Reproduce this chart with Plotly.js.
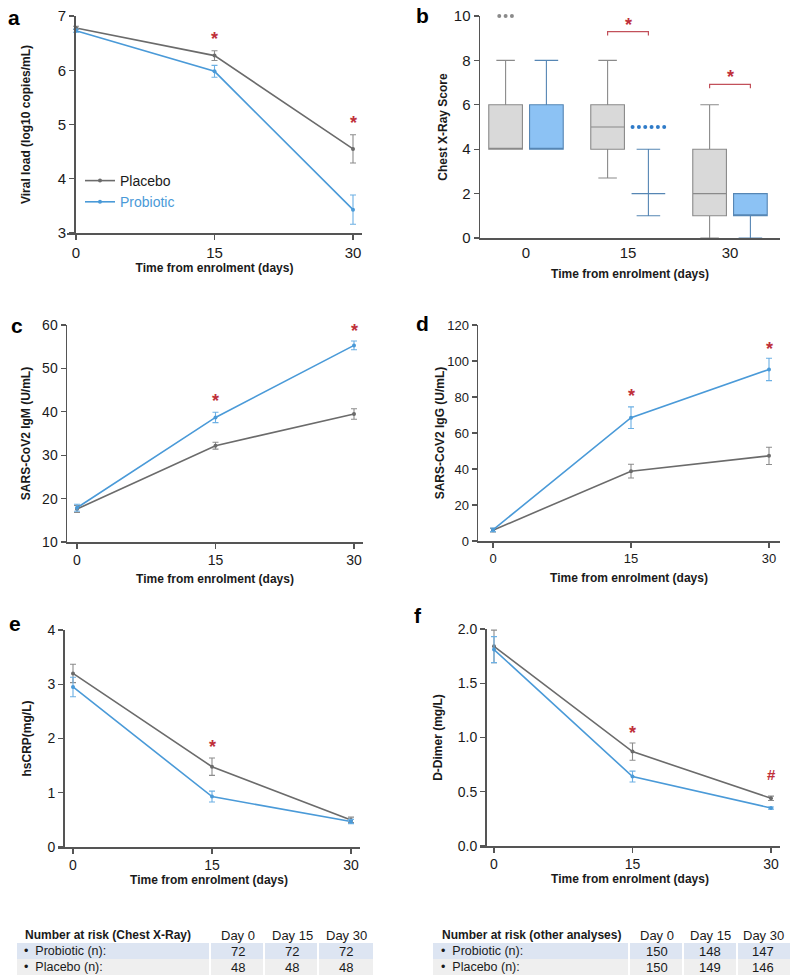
<!DOCTYPE html>
<html><head><meta charset="utf-8">
<script src="https://cdn.plot.ly/plotly-3.0.1.min.js"></script>
<style>html,body{margin:0;padding:0;background:#fff}</style>
</head><body><div id="chart" style="width:800px;height:979px"></div>
<script>
// ---------------- DATA ----------------
const days = [0, 15, 30];
const dayLabels = ['0', '15', '30'];

// a: viral load
const viralPlacebo = [6.78, 6.27, 4.55];
const viralPlaceboErr = [0.03, 0.09, 0.26];
const viralProbiotic = [6.73, 5.98, 3.43];
const viralProbioticErr = [0.03, 0.11, 0.27];
const viralStarX = [15, 30];
const viralStarY = [6.65, 5.1];
const viralStarText = ['*', '*'];

// b: chest x-ray score boxes (group index 0,1,2 -> day 0,15,30)
const xrayGroups = [0, 1, 2];
const xrayPlaceboQ1 = [4, 4, 1];
const xrayPlaceboMedian = [4, 5, 2];
const xrayPlaceboQ3 = [6, 6, 4];
const xrayPlaceboLow = [4, 2.7, 0];
const xrayPlaceboHigh = [8, 8, 6];
const xrayProbioticQ1 = [4, 2, 1];
const xrayProbioticMedian = [4, 2, 1];
const xrayProbioticQ3 = [6, 2, 2];
const xrayProbioticLow = [4, 1, 0];
const xrayProbioticHigh = [8, 4, 2];
const xrayPlaceboOutGroup = [0];
const xrayPlaceboOutY = [10];
const xrayPlaceboOutN = [3];
const xrayProbioticOutGroup = [1];
const xrayProbioticOutY = [5];
const xrayProbioticOutN = [6];
const xraySigGroup = [1, 2];
const xraySigLevel = [9.3, 6.92];
const xraySigStarY = [9.78, 7.42];

// c: IgM
const igmPlacebo = [17.6, 32.2, 39.5];
const igmPlaceboErr = [0.8, 0.8, 1.2];
const igmProbiotic = [17.9, 38.7, 55.3];
const igmProbioticErr = [0.8, 1.2, 1.0];
const igmStarX = [15, 30];
const igmStarY = [43.5, 59.5];
const igmStarText = ['*', '*'];

// d: IgG
const iggPlacebo = [6.0, 38.8, 47.3];
const iggPlaceboErr = [1.0, 3.8, 4.8];
const iggProbiotic = [6.2, 68.5, 95.3];
const iggProbioticErr = [1.0, 6.0, 6.2];
const iggStarX = [15, 30];
const iggStarY = [83, 109];
const iggStarText = ['*', '*'];

// e: hsCRP
const crpPlacebo = [3.2, 1.48, 0.5];
const crpPlaceboErr = [0.17, 0.16, 0.05];
const crpProbiotic = [2.95, 0.93, 0.47];
const crpProbioticErr = [0.18, 0.10, 0.04];
const crpStarX = [15];
const crpStarY = [1.92];
const crpStarText = ['*'];

// f: D-Dimer
const dimerPlacebo = [1.84, 0.87, 0.44];
const dimerPlaceboErr = [0.15, 0.08, 0.02];
const dimerProbiotic = [1.81, 0.64, 0.35];
const dimerProbioticErr = [0.12, 0.05, 0.01];
const dimerStarX = [15, 30];
const dimerStarY = [1.08, 0.66];
const dimerStarText = ['*', '#'];

// tables
const tableDays = ['Day 0', 'Day 15', 'Day 30'];
const tableRowNames = ['Probiotic (n):', 'Placebo (n):'];
const xrayRiskProbiotic = [72, 72, 72];
const xrayRiskPlacebo = [48, 48, 48];
const otherRiskProbiotic = [150, 148, 147];
const otherRiskPlacebo = [150, 149, 146];

// ---------------- STYLE / LAYOUT ----------------
const W = 800, H = 979;
const px = x => x / W, py = y => 1 - y / H;
const FONT = 'Liberation Sans, Arial, sans-serif';
const GRAY = '#6b6b6b', GRAYERR = '#8c8c8c';
const BLUE = '#4a9ad8', BLUEERR = '#6cb0e4';
const RED = '#c0303a';
const AXC = '#555555';
const TXT = '#1a1a1a';

function xRange(d0, d1, t0, t30) { const k = (t30 - t0) / 30; return [(d0 - t0) / k, (d1 - t0) / k]; }

function xAxis(d0, d1, t0, t30, anchor, standoff, fs) {
  return {
    domain: [px(d0), px(d1)], range: xRange(d0, d1, t0, t30), anchor: anchor,
    tickmode: 'array', tickvals: days, ticktext: dayLabels,
    ticks: 'outside', ticklen: 5, tickwidth: 1.2, tickcolor: AXC,
    showline: true, linecolor: AXC, linewidth: 1.5, showgrid: false, zeroline: false,
    tickfont: {size: fs, color: TXT, family: FONT},
    title: {text: 'Time from enrolment (days)', font: {size: 12, weight: 'bold', color: TXT, family: FONT}, standoff: standoff}
  };
}
function yAxis(top, bot, range, dtick, anchor, pos, title, standoff, fs, fmt) {
  const a = {
    domain: [py(bot), py(top)], range: range, tick0: range[0], dtick: dtick,
    ticks: 'outside', ticklen: 5, tickwidth: 1.2, tickcolor: AXC,
    showline: true, linecolor: AXC, linewidth: 1.5, showgrid: false, zeroline: false,
    tickfont: {size: fs, color: TXT, family: FONT},
    title: {text: title, font: {size: 12, weight: 'bold', color: TXT, family: FONT}, standoff: standoff}
  };
  if (fmt) a.tickformat = fmt;
  if (pos != null) { a.anchor = 'free'; a.position = px(pos); } else { a.anchor = anchor; }
  return a;
}

function lineTrace(y, err, color, errColor, xa, ya, name, showlegend) {
  return {
    type: 'scatter', mode: 'lines+markers', x: days, y: y, name: name, showlegend: showlegend,
    error_y: {type: 'data', array: err, visible: true, color: errColor, thickness: 1.1, width: 3},
    line: {color: color, width: 1.6}, marker: {color: color, size: 4},
    xaxis: xa, yaxis: ya, hoverinfo: 'skip'
  };
}

const traces = [];
const annotations = [];
const shapes = [];

function starAnn(xs, ys, texts, xref, yref) {
  xs.forEach((x, i) => annotations.push({
    x: x, y: ys[i], xref: xref, yref: yref, text: texts[i], showarrow: false,
    font: {size: texts[i] === '#' ? 15 : 18, color: RED, family: FONT, weight: 'bold'},
    xanchor: 'center', yanchor: 'middle', yshift: texts[i] === '#' ? 0 : -4
  }));
}

// a
traces.push(lineTrace(viralPlacebo, viralPlaceboErr, GRAY, GRAYERR, 'x', 'y', 'Placebo', true));
traces.push(lineTrace(viralProbiotic, viralProbioticErr, BLUE, BLUEERR, 'x', 'y', '<span style="color:' + BLUE + '">Probiotic</span>', true));
starAnn(viralStarX, viralStarY, viralStarText, 'x', 'y');
// c
traces.push(lineTrace(igmPlacebo, igmPlaceboErr, GRAY, GRAYERR, 'x3', 'y3', 'Placebo', false));
traces.push(lineTrace(igmProbiotic, igmProbioticErr, BLUE, BLUEERR, 'x3', 'y3', 'Probiotic', false));
starAnn(igmStarX, igmStarY, igmStarText, 'x3', 'y3');
// d
traces.push(lineTrace(iggPlacebo, iggPlaceboErr, GRAY, GRAYERR, 'x4', 'y4', 'Placebo', false));
traces.push(lineTrace(iggProbiotic, iggProbioticErr, BLUE, BLUEERR, 'x4', 'y4', 'Probiotic', false));
starAnn(iggStarX, iggStarY, iggStarText, 'x4', 'y4');
// e
traces.push(lineTrace(crpPlacebo, crpPlaceboErr, GRAY, GRAYERR, 'x5', 'y5', 'Placebo', false));
traces.push(lineTrace(crpProbiotic, crpProbioticErr, BLUE, BLUEERR, 'x5', 'y5', 'Probiotic', false));
starAnn(crpStarX, crpStarY, crpStarText, 'x5', 'y5');
// f
traces.push(lineTrace(dimerPlacebo, dimerPlaceboErr, GRAY, GRAYERR, 'x6', 'y6', 'Placebo', false));
traces.push(lineTrace(dimerProbiotic, dimerProbioticErr, BLUE, BLUEERR, 'x6', 'y6', 'Probiotic', false));
starAnn(dimerStarX, dimerStarY, dimerStarText, 'x6', 'y6');

// b boxes
const BOFF = 0.2, BW = 0.33, DOTSTEP = 0.062;
traces.push({
  type: 'box', x: xrayGroups.map(g => g - BOFF), q1: xrayPlaceboQ1, median: xrayPlaceboMedian, q3: xrayPlaceboQ3,
  lowerfence: xrayPlaceboLow, upperfence: xrayPlaceboHigh, width: BW, whiskerwidth: 0.55,
  fillcolor: '#d9d9d9', line: {color: '#8a8a8a', width: 1.1}, boxpoints: false,
  xaxis: 'x2', yaxis: 'y2', showlegend: false, name: 'Placebo', hoverinfo: 'skip'
});
traces.push({
  type: 'box', x: xrayGroups.map(g => g + BOFF), q1: xrayProbioticQ1, median: xrayProbioticMedian, q3: xrayProbioticQ3,
  lowerfence: xrayProbioticLow, upperfence: xrayProbioticHigh, width: BW, whiskerwidth: 0.7,
  fillcolor: '#8cc2f4', line: {color: '#5686b4', width: 1.1}, boxpoints: false,
  xaxis: 'x2', yaxis: 'y2', showlegend: false, name: 'Probiotic', hoverinfo: 'skip'
});
function outlierTrace(groups, ys, ns, off, color) {
  const xs = [], yy = [];
  groups.forEach((g, i) => { for (let k = 0; k < ns[i]; k++) { xs.push(g + off + (k - (ns[i] - 1) / 2) * DOTSTEP); yy.push(ys[i]); } });
  return {type: 'scatter', mode: 'markers', x: xs, y: yy, cliponaxis: false, marker: {color: color, size: 4}, xaxis: 'x2', yaxis: 'y2', showlegend: false, hoverinfo: 'skip'};
}
traces.push(outlierTrace(xrayPlaceboOutGroup, xrayPlaceboOutY, xrayPlaceboOutN, -BOFF, '#8a8a8a'));
traces.push(outlierTrace(xrayProbioticOutGroup, xrayProbioticOutY, xrayProbioticOutN, BOFF, '#2f7bc8'));
xraySigGroup.forEach((g, i) => {
  const x0 = g - BOFF, x1 = g + BOFF, yl = xraySigLevel[i], yb = yl - 0.18;
  shapes.push({type: 'path', xref: 'x2', yref: 'y2', path: `M ${x0},${yb} L ${x0},${yl} L ${x1},${yl} L ${x1},${yb}`, line: {color: '#c2505a', width: 1.2}});
  annotations.push({x: g, y: xraySigStarY[i], xref: 'x2', yref: 'y2', text: '*', showarrow: false, font: {size: 18, color: RED, family: FONT, weight: 'bold'}, yshift: -4});
});

// panel letters
[['a', 14, 17], ['b', 422, 16], ['c', 17, 325], ['d', 422, 323], ['e', 15, 623], ['f', 418, 615]].forEach(p => {
  annotations.push({x: px(p[1]), y: py(p[2]), xref: 'paper', yref: 'paper', text: '<b>' + p[0] + '</b>', showarrow: false,
    font: {size: 21, color: '#000', family: FONT}, xanchor: 'center', yanchor: 'middle'});
});

// tables
function buildTable(cells, centers, headerX, rowTextX, title, probVals, placVals) {
  const rowsY = [[943, 959], [959, 975]];
  const rowColors = ['#dde5f2', '#efefef'];
  rowsY.forEach((ry, r) => cells.forEach(c => shapes.push({type: 'rect', xref: 'paper', yref: 'paper', x0: px(c[0]), x1: px(c[1]), y0: py(ry[1]), y1: py(ry[0]), fillcolor: rowColors[r], line: {width: 0}, layer: 'below'})));
  annotations.push({x: px(headerX), y: py(935), xref: 'paper', yref: 'paper', text: '<b>' + title + '</b>', showarrow: false, xanchor: 'left', yanchor: 'middle', font: {size: 12, color: TXT, family: FONT}});
  tableDays.forEach((d, i) => annotations.push({x: px(centers[i]), y: py(935), xref: 'paper', yref: 'paper', text: d, showarrow: false, xanchor: 'center', yanchor: 'middle', font: {size: 13, color: TXT, family: FONT}}));
  [probVals, placVals].forEach((vals, r) => {
    const yc = (rowsY[r][0] + rowsY[r][1]) / 2;
    annotations.push({x: px(rowTextX), y: py(yc), xref: 'paper', yref: 'paper', text: '•  ' + tableRowNames[r], showarrow: false, xanchor: 'left', yanchor: 'middle', font: {size: 12.5, color: TXT, family: FONT}});
    vals.forEach((v, i) => annotations.push({x: px(centers[i]), y: py(yc), xref: 'paper', yref: 'paper', text: String(v), showarrow: false, xanchor: 'center', yanchor: 'middle', font: {size: 13, color: TXT, family: FONT}}));
  });
}
buildTable([[17, 209], [211, 263], [265, 317], [319, 373]], [238, 292, 346], 23, 22, 'Number at risk (Chest X-Ray)', xrayRiskProbiotic, xrayRiskPlacebo);
buildTable([[433, 628], [630, 682], [684, 736], [738, 790]], [657, 710, 763], 440, 439, 'Number at risk (other analyses)', otherRiskProbiotic, otherRiskPlacebo);

// box x axis
const bx0 = 480, bx1 = 780, bg0 = 526, bg2 = 730, bk = (bg2 - bg0) / 2;
const xaxis2 = {
  domain: [px(bx0), px(bx1)], range: [(bx0 - bg0) / bk, (bx1 - bg0) / bk], anchor: 'y2',
  tickmode: 'array', tickvals: xrayGroups, ticktext: dayLabels, ticks: '',
  showline: true, linecolor: AXC, linewidth: 1.5, showgrid: false, zeroline: false,
  tickfont: {size: 15, color: TXT, family: FONT},
  title: {text: 'Time from enrolment (days)', font: {size: 12, weight: 'bold', color: TXT, family: FONT}, standoff: 10}
};

const layout = {
  width: W, height: H, margin: {l: 0, r: 0, t: 0, b: 0}, paper_bgcolor: '#fff', plot_bgcolor: 'rgba(0,0,0,0)',
  font: {family: FONT, color: TXT},
  showlegend: true,
  legend: {x: px(80), y: py(165), xanchor: 'left', yanchor: 'top', bgcolor: 'rgba(0,0,0,0)', font: {size: 14, color: TXT, family: FONT}, itemwidth: 30, tracegroupgap: 0},
  xaxis: xAxis(67, 362, 76, 353, 'y', 4, 15),
  yaxis: yAxis(16, 233, [3, 7], 1, null, 74, 'Viral load (log10 copies/mL)', 23, 15),
  xaxis2: xaxis2,
  yaxis2: yAxis(16, 238, [0, 10], 2, 'x2', null, 'Chest X-Ray Score', 3, 15),
  xaxis3: xAxis(67, 363, 77, 354, 'y3', 7, 14),
  yaxis3: yAxis(325, 542, [10, 60], 10, 'x3', null, 'SARS-CoV2 IgM (U/mL)', 9, 14),
  xaxis4: xAxis(478, 780, 493, 769, 'y4', 8, 13),
  yaxis4: yAxis(325, 541, [0, 120], 20, 'x4', null, 'SARS-CoV2 IgG (U/mL)', 0, 13),
  xaxis5: xAxis(58, 360, 73, 351, 'y5', 0, 14),
  yaxis5: yAxis(630, 847, [0, 4], 1, null, 63, 'hsCRP(mg/L)', 11, 14),
  xaxis6: xAxis(480, 780, 494, 771, 'y6', 0, 14),
  yaxis6: yAxis(629, 846, [0, 2], 0.5, null, 485, 'D-Dimer (mg/L)', 11, 14, '.1f'),
  annotations: annotations, shapes: shapes
};

Plotly.newPlot('chart', traces, layout, {displayModeBar: false, staticPlot: true});
</script></body></html>
